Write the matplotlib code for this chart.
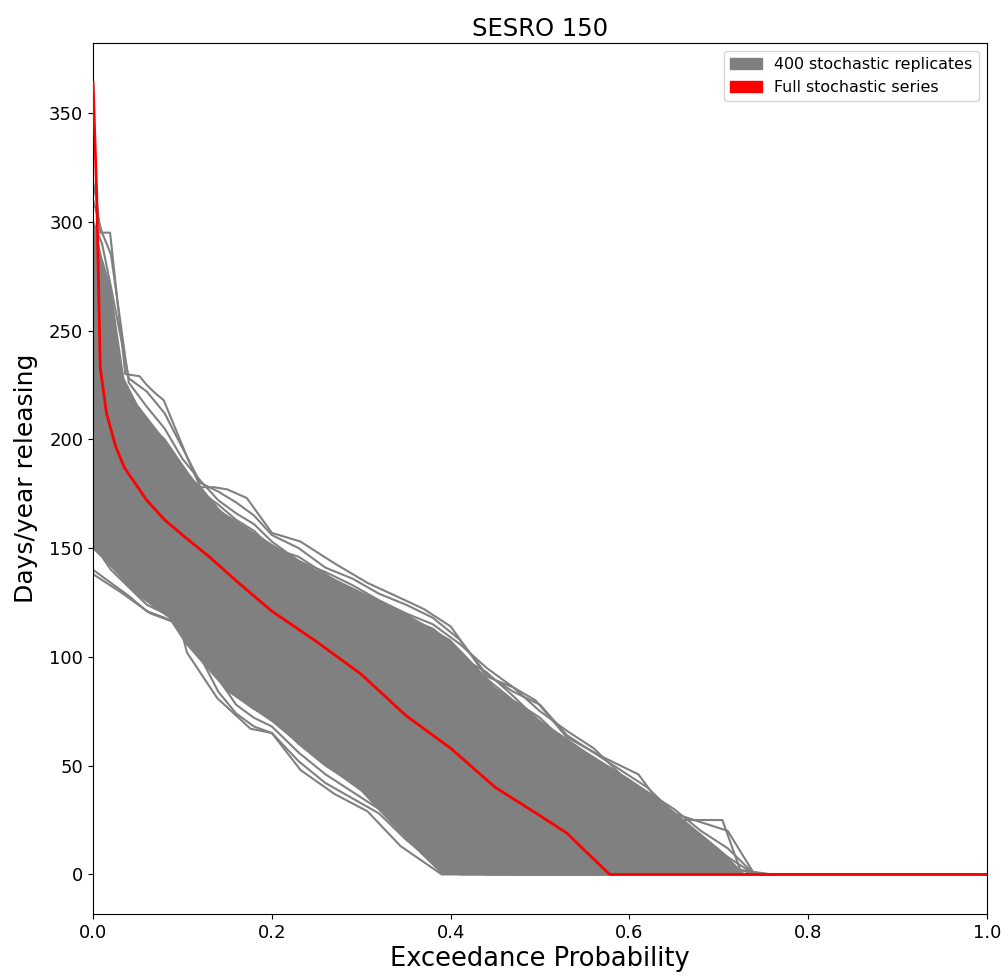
import matplotlib
matplotlib.use("Agg")
from matplotlib import pyplot as plt
from matplotlib.patches import Patch

# Full stochastic series (red curve)
full_x = [0, 0.004, 0.008, 0.015, 0.025, 0.035, 0.045, 0.06, 0.08, 0.1, 0.13, 0.16,
          0.2, 0.25, 0.3, 0.35, 0.4, 0.45, 0.5, 0.53, 0.55, 0.578, 1.0]
full_y = [364, 313, 233, 212, 197, 187, 181, 172, 163, 156, 146, 135,
          121, 107, 92, 73, 58, 40, 27, 19, 11, 0, 0]

# Outer edges of the 400 replicates
upper_x = [0, 0.004, 0.008, 0.019, 0.036, 0.052, 0.06, 0.07, 0.079, 0.09, 0.105, 0.12,
           0.135, 0.15, 0.172, 0.2, 0.232, 0.27, 0.307, 0.344, 0.37, 0.40, 0.44, 0.47,
           0.495, 0.53, 0.57, 0.61, 0.63, 0.66, 0.704, 0.724, 0.76, 1.0]
upper_y = [318, 310, 295, 295, 230, 229, 225, 221, 218, 207, 192, 178,
           178, 177, 173, 157, 153, 143, 134, 127, 122, 114, 91, 86,
           80, 63, 54, 46, 35, 25, 25, 2, 0, 0]
lower_x = [0, 0.03, 0.064, 0.097, 0.105, 0.139, 0.176, 0.2, 0.232, 0.27, 0.307,
           0.344, 0.39, 1.0]
lower_y = [138, 130, 120, 115, 102, 81, 67, 65, 48, 37, 29,
           13, 0, 0]

# Dense core of the replicate band (where the lines overlap completely)
core_up_x = [0, 0.01, 0.02, 0.035, 0.05, 0.08, 0.1, 0.14, 0.2, 0.25, 0.3, 0.35,
             0.4, 0.45, 0.5, 0.55, 0.6, 0.65, 0.7, 0.73]
core_up_y = [302, 284, 270, 228, 216, 200, 188, 168, 152, 140, 130, 120,
             108, 86, 71, 57, 44, 29, 12, 0]
core_lo_x = [0, 0.047, 0.084, 0.103, 0.15, 0.2, 0.25, 0.3, 0.35, 0.39]
core_lo_y = [150, 129, 118, 106, 84, 70, 53, 38, 16, 0]

# Individual replicates visible at the fringes of the band
rep_x = [0, 0.01, 0.02, 0.04, 0.06, 0.08, 0.1, 0.12, 0.14, 0.16, 0.18, 0.2, 0.23,
         0.26, 0.29, 0.32, 0.35, 0.38, 0.41, 0.44, 0.47, 0.5, 0.53, 0.56, 0.59,
         0.62, 0.65, 0.68, 0.71, 0.74, 1.0]
rep_hi1 = [300, 290, 270, 228, 222, 212, 196, 180, 176, 171, 165, 156, 150, 141, 136,
           129, 124, 118, 108, 92, 84, 78, 64, 56, 48, 40, 28, 24, 20, 0, 0]
rep_hi2 = [280, 262, 245, 220, 208, 200, 188, 176, 170, 163, 158, 150, 146, 138, 130,
           124, 118, 113, 103, 90, 80, 72, 60, 52, 44, 34, 26, 18, 8, 0, 0]
rep_hi3 = [260, 250, 238, 214, 204, 194, 185, 178, 168, 160, 152, 147, 141, 134, 128,
           121, 116, 108, 100, 93, 82, 70, 62, 50, 40, 30, 22, 14, 4, 0, 0]
rep_hi4 = [310, 295, 285, 226, 215, 205, 191, 181, 172, 166, 161, 153, 144, 139, 133,
           126, 120, 115, 106, 95, 86, 75, 66, 58, 46, 38, 30, 20, 12, 0, 0]
rep_lo1 = [140, 137, 134, 128, 121, 118, 114, 100, 84, 74, 68, 65, 52, 42, 35,
           28, 16, 6, 0, 0, 0, 0, 0, 0, 0, 0, 0, 0, 0, 0, 0]
rep_lo2 = [160, 152, 146, 135, 126, 122, 118, 108, 94, 82, 76, 72, 60, 50, 42,
           35, 24, 14, 4, 0, 0, 0, 0, 0, 0, 0, 0, 0, 0, 0, 0]
rep_lo3 = [168, 160, 154, 142, 132, 126, 120, 112, 102, 90, 82, 76, 66, 56, 47,
           40, 30, 20, 10, 2, 0, 0, 0, 0, 0, 0, 0, 0, 0, 0, 0]
rep_lo4 = [150, 146, 140, 132, 124, 120, 116, 104, 90, 78, 72, 68, 56, 46, 38,
           30, 20, 10, 2, 0, 0, 0, 0, 0, 0, 0, 0, 0, 0, 0, 0]

fig = plt.figure(figsize=(10.01, 9.76), dpi=100)
ax = fig.add_axes([0.093, 0.0635, 0.893, 0.8925])

# grey band: solid core plus fringe lines
ax.fill(core_up_x + core_lo_x[::-1], core_up_y + core_lo_y[::-1], color="gray", lw=0)
for reps in [rep_hi1, rep_hi2, rep_hi3, rep_hi4, rep_lo1, rep_lo2, rep_lo3, rep_lo4]:
    ax.plot(rep_x, reps, color="gray", lw=1.5)
ax.plot(upper_x, upper_y, color="gray", lw=1.5)
ax.plot(lower_x, lower_y, color="gray", lw=1.5)

# full series
ax.plot(full_x, full_y, color="red", lw=2, zorder=5)

ax.set_xlim(0, 1)
ax.set_ylim(-18.2, 382.2)
ax.set_title("SESRO 150", fontsize=17.5, pad=5)
ax.set_xlabel("Exceedance Probability", fontsize=18.5, labelpad=3)
ax.set_ylabel("Days/year releasing", fontsize=18, labelpad=8)
ax.tick_params(labelsize=13)

handles = [Patch(color="gray", label="400 stochastic replicates"),
           Patch(color="red", label="Full stochastic series")]
ax.legend(handles=handles, loc="upper right", fontsize=11.4)

fig.savefig("out.png", dpi=100)
